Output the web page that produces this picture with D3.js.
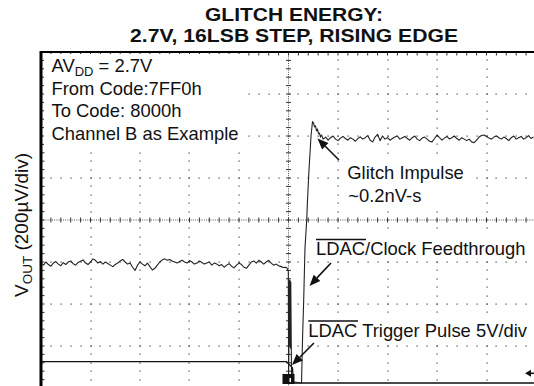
<!DOCTYPE html>
<html>
<head>
<meta charset="utf-8">
<script src="https://cdn.jsdelivr.net/npm/d3@7"></script>
<style>
  body { margin: 0; background: #fff; }
  svg { display: block; }
  text { font-family: "Liberation Sans", Arial, Helvetica, sans-serif; fill: #111; }
</style>
</head>
<body>
<svg id="chart" width="534" height="386"></svg>
<script>
// ---- Scope capture: V_OUT (200 µV/div) and LDAC trigger (5 V/div) ----
// Horizontal position in screen divisions (0..10), samples every 0.05 div.
const sampleStep = 0.05;
const preStart = 0;
const postStart = 5.70;

// V_OUT before the code change (µV)
const preStepUV = [
  -205, -215, -200, -212, -220, -205, -198, -210, -218, -203,
  -212, -200, -195, -208, -215, -202, -196, -190, -205, -212,
  -200, -185, -192, -205, -198, -210, -200, -207, -215, -222,
  -212, -205, -195, -188, -200, -210, -205, -225, -240, -215,
  -200, -210, -218, -205, -222, -238, -230, -215, -200, -190,
  -185, -192, -188, -195, -200, -205, -198, -192, -200, -205,
  -193, -200, -210, -205, -195, -202, -210, -205, -200, -215,
  -205, -210, -218, -212, -225, -215, -208, -220, -228, -215,
  -205, -212, -225, -230, -215, -200, -195, -205, -192, -200,
  -210, -200, -192, -205, -215, -210, -218, -222, -226, -225
];

// LDAC feedthrough and rising edge with glitch overshoot
const edgeDiv = [4.970, 4.996, 5.002, 5.020, 5.028, 5.034, 5.040, 5.046, 5.061, 5.081, 5.263, 5.283,
                 5.307, 5.333, 5.368, 5.384, 5.414, 5.455, 5.485, 5.505, 5.525, 5.545,
                 5.566, 5.586, 5.606, 5.626, 5.646, 5.667];
const edgeUV  = [-229, -243, -752, -286, -600, -290, -610, -295, -733, -771, -776, -571,
                 -381, -133, 0, 95, 238, 400, 469, 462, 443, 448,
                 424, 433, 410, 414, 395, 405];

// V_OUT after settling (µV)
const postStepUV = [
  385, 395, 380, 392, 400, 385, 378, 390, 398, 388,
  380, 392, 385, 375, 388, 396, 385, 392, 402, 380,
  372, 395, 408, 378, 400, 385, 392, 380, 388, 395,
  400, 385, 392, 398, 388, 380, 392, 400, 385, 378,
  390, 395, 385, 375, 372, 388, 405, 392, 380, 390,
  398, 386, 392, 400, 388, 380, 392, 385, 378, 385,
  372, 368, 380, 395, 402, 405, 398, 390, 385, 395,
  400, 392, 385, 395, 388, 378, 392, 400, 385, 392,
  398, 385, 392, 402, 388, 395
];

// LDAC trigger pulse (V)
const ldacDiv = [0, 4.96, 5.08, 5.10, 10];
const ldacVolts = [2.55, 2.55, 1.8, 0, 0];

// Graticule
const divisionsX = d3.range(0, 11);           // 10 horizontal divisions
const divisionsUV = d3.range(-800, 801, 200); // 8 vertical divisions
const titleLines = ["GLITCH ENERGY:", "2.7V, 16LSB STEP, RISING EDGE"];
const titleWidths = [178, 328];

const svg = d3.select("#chart");
const x = d3.scaleLinear().domain([0, 10]).range([41, 536]);
const y = d3.scaleLinear().domain([-800, 800]).range([388, 52]);
const yL = d3.scaleLinear().domain([0, 5]).range([383, 341]);

const minorX = d3.range(0, 51).map(i => i * 0.2);
const minorUV = d3.range(-800, 801, 40);

svg.append("rect").attr("width", 534).attr("height", 386).attr("fill", "#fff");

// Title
svg.append("g").selectAll("text").data(titleLines).join("text")
  .attr("x", 294).attr("y", (d, i) => 20.8 + i * 21.5)
  .attr("text-anchor", "middle")
  .attr("textLength", (d, i) => titleWidths[i])
  .attr("lengthAdjust", "spacingAndGlyphs")
  .style("font-weight", "bold").style("font-size", "19px")
  .text(d => d);

const grid = svg.append("g");
// dotted grid lines (one dot per minor step)
divisionsUV.filter(v => v !== 0 && Math.abs(v) !== 800).forEach(v => {
  grid.append("g").selectAll("rect").data(minorX).join("rect")
    .attr("x", d => Math.round(x(d)) - 0.5).attr("y", Math.round(y(v)) - 0.5)
    .attr("width", 1.2).attr("height", 1.2).attr("fill", "#444");
});
divisionsX.filter(d => d !== 0 && d !== 5 && d !== 10).forEach(d => {
  grid.append("g").selectAll("rect").data(minorUV).join("rect")
    .attr("x", Math.round(x(d)) - 0.5).attr("y", v => Math.round(y(v)) - 0.5)
    .attr("width", 1.2).attr("height", 1.2).attr("fill", "#444");
});

// centre axes with minor ticks
grid.append("line").attr("x1", x(0)).attr("x2", x(10)).attr("y1", y(0)).attr("y2", y(0))
  .attr("stroke", "#555").attr("stroke-width", 1).attr("stroke-dasharray", "1 1.2");
grid.append("g").selectAll("line").data(minorX).join("line")
  .attr("x1", d => x(d)).attr("x2", d => x(d))
  .attr("y1", y(0) - 2.5).attr("y2", y(0) + 2.5)
  .attr("stroke", "#333").attr("stroke-width", 1);
grid.append("line").attr("x1", x(5)).attr("x2", x(5)).attr("y1", y(800)).attr("y2", y(-800))
  .attr("stroke", "#555").attr("stroke-width", 1).attr("stroke-dasharray", "1 1.2");
grid.append("g").selectAll("line").data(minorUV).join("line")
  .attr("x1", x(5) - 2.5).attr("x2", x(5) + 2.5)
  .attr("y1", d => y(d)).attr("y2", d => y(d))
  .attr("stroke", "#333").attr("stroke-width", 1);

// border ticks
grid.append("g").selectAll("line").data(minorX).join("line")
  .attr("x1", d => x(d)).attr("x2", d => x(d))
  .attr("y1", y(800)).attr("y2", y(800) + 3.5)
  .attr("stroke", "#333").attr("stroke-width", 1);
grid.append("g").selectAll("line").data(minorUV).join("line")
  .attr("x1", x(0)).attr("x2", x(0) + 3.5)
  .attr("y1", d => y(d)).attr("y2", d => y(d))
  .attr("stroke", "#333").attr("stroke-width", 1);

// frame
svg.append("line").attr("x1", x(0)).attr("x2", x(0)).attr("y1", 51).attr("y2", 386)
  .attr("stroke", "#000").attr("stroke-width", 3);
svg.append("line").attr("x1", 40).attr("x2", 534).attr("y1", y(800)).attr("y2", y(800))
  .attr("stroke", "#000").attr("stroke-width", 2);

// label backgrounds
const boxes = [[44, 54, 202, 93], [343, 159, 127, 49], [312, 235, 218, 26], [305, 317, 226, 26]];
svg.append("g").selectAll("rect").data(boxes).join("rect")
  .attr("x", d => d[0]).attr("y", d => d[1]).attr("width", d => d[2]).attr("height", d => d[3])
  .attr("fill", "#fff");

// traces
svg.append("clipPath").attr("id", "screen")
  .append("rect").attr("x", x(0) + 1).attr("y", y(800) + 1)
  .attr("width", x(10) - x(0)).attr("height", y(-800) - y(800));

const voutPoints = [
  ...preStepUV.map((v, i) => [preStart + i * sampleStep, v]),
  ...edgeDiv.map((d, i) => [d, edgeUV[i]]),
  ...postStepUV.map((v, i) => [postStart + i * sampleStep, v])
];
const traces = svg.append("g").attr("clip-path", "url(#screen)");
traces.append("path")
  .attr("d", d3.line().x(d => x(d[0])).y(d => yL(d[1]))(ldacDiv.map((d, i) => [d, ldacVolts[i]])))
  .attr("fill", "none").attr("stroke", "#111").attr("stroke-width", 1.3);
traces.append("path")
  .attr("d", d3.line().x(d => x(d[0])).y(d => y(d[1]))(voutPoints))
  .attr("fill", "none").attr("stroke", "#222").attr("stroke-width", 1.1)
  .attr("stroke-linejoin", "round");

// trigger position marker
svg.append("rect").attr("x", x(5) - 6).attr("y", 374).attr("width", 12).attr("height", 10).attr("fill", "#111");
svg.append("rect").attr("x", x(5) + 1).attr("y", 378).attr("width", 1.5).attr("height", 4).attr("fill", "#fff");

// ground level marker at the right edge
svg.append("path").attr("d", "M525,373.3 L531,369.8 L531,376.8 Z").attr("fill", "#111");
svg.append("line").attr("x1", 530).attr("x2", 534).attr("y1", 373.3).attr("y2", 373.3)
  .attr("stroke", "#111").attr("stroke-width", 1.5);

// annotation text
const body = 18.4;
const info = svg.append("g").style("font-size", body + "px");
const t0 = info.append("text").attr("x", 51.5).attr("y", 72);
t0.append("tspan").text("AV");
t0.append("tspan").attr("dy", 4).style("font-size", "13px").text("DD");
t0.append("tspan").attr("dy", -4).text(" = 2.7V");
info.append("text").attr("x", 51.5).attr("y", 95).text("From Code:7FF0h");
info.append("text").attr("x", 51.5).attr("y", 117).text("To Code: 8000h");
info.append("text").attr("x", 51.5).attr("y", 139.5).text("Channel B as Example");

info.append("text").attr("x", 347.3).attr("y", 178.5).text("Glitch Impulse");
info.append("text").attr("x", 348.3).attr("y", 201.7).text("~0.2nV-s");
info.append("text").attr("x", 316).attr("y", 255).text("LDAC/Clock Feedthrough");
info.append("text").attr("x", 308.3).attr("y", 336.7).text("LDAC Trigger Pulse 5V/div");
// overbars on LDAC
svg.append("line").attr("x1", 316).attr("x2", 366).attr("y1", 239.5).attr("y2", 239.5)
  .attr("stroke", "#111").attr("stroke-width", 1.4);
svg.append("line").attr("x1", 308.3).attr("x2", 358).attr("y1", 321).attr("y2", 321)
  .attr("stroke", "#111").attr("stroke-width", 1.4);

// arrows pointing at the trace features
function arrow(tipX, tipY, dx, dy) {
  const len = Math.hypot(dx, dy), ux = -dx / len, uy = -dy / len;
  const hl = 11, hw = 4.5;
  const bx = tipX - ux * hl, by = tipY - uy * hl;
  svg.append("line").attr("x1", tipX + dx).attr("y1", tipY + dy).attr("x2", bx).attr("y2", by)
    .attr("stroke", "#111").attr("stroke-width", 1.6);
  svg.append("path")
    .attr("d", `M${tipX},${tipY} L${bx - uy * hw},${by + ux * hw} L${bx + uy * hw},${by - ux * hw} Z`)
    .attr("fill", "#111");
}
arrow(x(5.586), y(388), 21.5, 21.5);
arrow(x(5.424), y(-314), 21.5, -23);
arrow(x(5.07), yL(2.14), 22, -22);

// vertical axis label
const yl = svg.append("text").attr("transform", "translate(28,225) rotate(-90)")
  .attr("text-anchor", "middle").style("font-size", "19px");
yl.append("tspan").text("V");
yl.append("tspan").attr("dy", 4).style("font-size", "13.5px").text("OUT");
yl.append("tspan").attr("dy", -4).text(" (200µV/div)");
</script>
</body>
</html>
